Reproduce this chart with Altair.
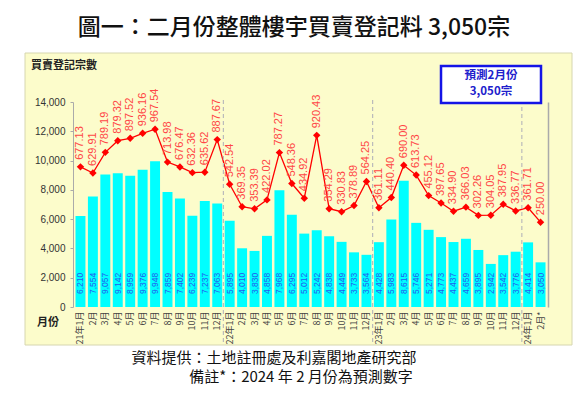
import altair as alt
import pandas as pd

# ---- data ----
month_labels = ['21年1月', '2月', '3月', '4月', '5月', '6月', '7月', '8月', '9月', '10月', '11月', '12月',
                '22年1月', '2月', '3月', '4月', '5月', '6月', '7月', '8月', '9月', '10月', '11月', '12月',
                '23年1月', '2月', '3月', '4月', '5月', '6月', '7月', '8月', '9月', '10月', '11月', '12月',
                '24年1月', '2月*']
counts = [6210, 7554, 9057, 9142, 8959, 9376, 9948, 7859, 7402, 6239, 7237, 7063,
          5895, 4010, 3830, 4858, 7968, 6295, 5012, 5242, 4838, 4449, 3733, 3564,
          4428, 5983, 8615, 5746, 5271, 4773, 4437, 4659, 3895, 2942, 3542, 3776,
          4414, 3050]
amounts = [677.13, 629.91, 789.19, 879.32, 897.52, 936.16, 967.54, 713.98, 676.47, 632.36, 635.62, 887.67,
           542.54, 369.35, 353.39, 422.02, 787.27, 548.36, 434.92, 920.43, 354.29, 330.83, 378.89, 564.25,
           361.11, 440.40, 690.00, 613.73, 455.12, 397.65, 334.90, 366.03, 302.26, 304.05, 387.95, 336.77,
           361.71, 250.00]
year_starts = [12, 24, 36]
y_ticks = [0, 2000, 4000, 6000, 8000, 10000, 12000, 14000]

title_text = '圖一：二月份整體樓宇買賣登記料 3,050宗'
y_title = '買賣登記宗數'
x_title = '月份'
note1 = '資料提供：土地註冊處及利嘉閣地產研究部'
note2 = '備註*：2024 年 2 月份為預測數字'
box_line1 = '預測2月份'
box_line2 = '3,050宗'

df = pd.DataFrame({'i': list(range(len(counts))), 'count': counts, 'amount': amounts})
rules_df = pd.DataFrame({'i': year_starts})
one = pd.DataFrame({'k': [0]})

W, H = 475, 205
CJK = 'Noto Sans CJK TC'
LAT = 'Liberation Sans'

label_expr = '[' + ','.join("'%s'" % s for s in month_labels) + '][datum.value]'

xenc = alt.X('i:O', sort='ascending',
             scale=alt.Scale(paddingInner=0.2, paddingOuter=0.2),
             axis=alt.Axis(title=None, labelExpr=label_expr, labelAngle=270, labelFontSize=9,
                           labelFont=CJK, labelColor='#444444', ticks=False, domain=False,
                           labelPadding=4, zindex=1))

count_scale = alt.Scale(domain=[0, 14000], nice=False)
count_axis = alt.Axis(title=None, values=y_ticks, format=',.0f', labelFontSize=10, labelFont=LAT,
                      labelColor='#333333', domainColor='#AAAAAA', tickColor='#AAAAAA',
                      labelOverlap=False, labelFlush=False,
                      tickSize=3, labelPadding=5, grid=False, zindex=1, orient='left')

# background panel (decoration)
panel = alt.Chart(one).mark_rect(fill='#FCFCCB', stroke='#D6D6B0', strokeWidth=1).encode(
    x=alt.value(-48), x2=alt.value(499), y=alt.value(-49), y2=alt.value(243))

bars = alt.Chart(df).mark_bar(color='#00FFFF').encode(
    x=xenc,
    y=alt.Y('count:Q', scale=count_scale, axis=count_axis))

bar_labels = alt.Chart(df).transform_calculate(base='0').mark_text(
    angle=270, align='left', baseline='middle', dx=13,
    fontSize=8.5, font=LAT, color='#2060F0').encode(
    x=alt.X('i:O', sort='ascending'),
    y=alt.Y('base:Q', scale=count_scale, axis=count_axis),
    text=alt.Text('count:Q', format=','))

left = alt.layer(bars, bar_labels)

amt_scale = alt.Scale(domain=[-405, 1178], nice=False, zero=False)
line = alt.Chart(df).mark_line(color='#FF0000', strokeWidth=1.3).encode(
    x=alt.X('i:O', sort='ascending'),
    y=alt.Y('amount:Q', scale=amt_scale,
            axis=alt.Axis(title=None, labels=False, ticks=False, grid=False, orient='right',
                          domainColor='#AAAAAA', domainWidth=1.5, zindex=1)))
pts = alt.Chart(df).mark_point(shape='diamond', filled=True, color='#FF0000', size=55, opacity=1).encode(
    x=alt.X('i:O', sort='ascending'), y=alt.Y('amount:Q', scale=amt_scale))
line_labels = alt.Chart(df).mark_text(angle=270, align='left', baseline='middle', dx=7,
                                      fontSize=11, font=LAT, color='#FF4646').encode(
    x=alt.X('i:O', sort='ascending'), y=alt.Y('amount:Q', scale=amt_scale),
    text=alt.Text('amount:Q', format='.2f'))

right = alt.layer(line, pts, line_labels)

rules = alt.Chart(rules_df).mark_rule(color='#BBBBBB', strokeDash=[4, 3], strokeWidth=1.2, xOffset=-1.3).encode(
    x=alt.X('i:O', sort='ascending', bandPosition=0), y=alt.value(-2), y2=alt.value(H + 36))

box = alt.Chart(one).mark_rect(fill='white', stroke='#1414E6', strokeWidth=2.5).encode(
    x=alt.value(368), x2=alt.value(468), y=alt.value(-36), y2=alt.value(1))
box_t1 = alt.Chart(one).mark_text(text=box_line1, font=CJK, fontSize=11.5, fontWeight='bold',
                                  color='#2020CC').encode(x=alt.value(418), y=alt.value(-26.5))
box_t2 = alt.Chart(one).mark_text(text=box_line2, font=CJK, fontSize=11.5, fontWeight='bold',
                                  color='#2020CC').encode(x=alt.value(418), y=alt.value(-10.5))

title = alt.Chart(one).mark_text(text=title_text, font=CJK, fontSize=23, fontWeight=500,
                                 color='#111111').encode(x=alt.value(221), y=alt.value(-74))
ytitle = alt.Chart(one).mark_text(text=y_title, font=CJK, fontSize=11, fontWeight='bold', align='left',
                                  color='#222222').encode(x=alt.value(-42), y=alt.value(-36))
xtitle = alt.Chart(one).mark_text(text=x_title, font=CJK, fontSize=11, fontWeight='bold',
                                  color='#222222').encode(x=alt.value(-25), y=alt.value(221))
n1 = alt.Chart(one).mark_text(text=note1, font=CJK, fontSize=15, color='#111111').encode(
    x=alt.value(201), y=alt.value(256))
n2 = alt.Chart(one).mark_text(text=note2, font=CJK, fontSize=15, color='#111111').encode(
    x=alt.value(228), y=alt.value(275))

chart = alt.layer(panel, left, right, rules, box, box_t1, box_t2, title, ytitle, xtitle, n1, n2).resolve_scale(
    y='independent').properties(
    width=W, height=H,
    autosize=alt.AutoSizeParams(type='none'),
    padding={'left': 65, 'top': 94, 'right': 32, 'bottom': 78},
    background='white',
).configure_view(stroke=None)

chart.save('out.html', embed_options={'renderer': 'svg', 'actions': False})
